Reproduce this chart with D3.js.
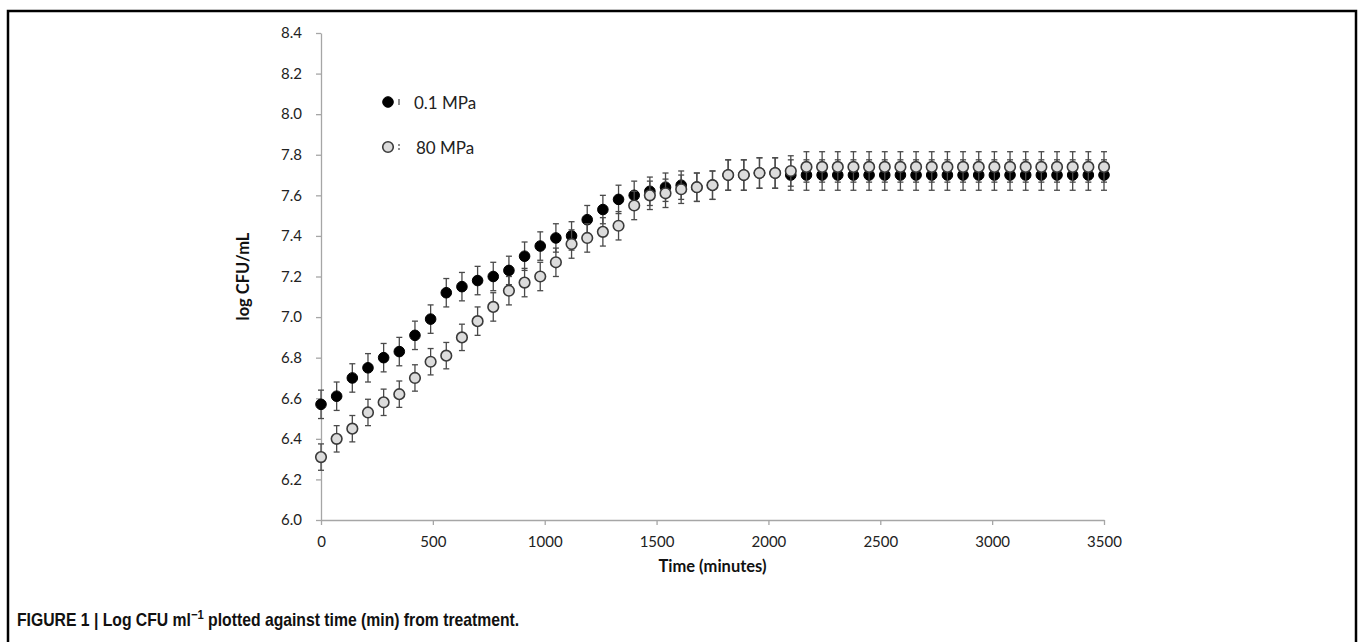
<!DOCTYPE html>
<html>
<head>
<meta charset="utf-8">
<script src="https://cdn.jsdelivr.net/npm/d3@7"></script>
<style>
  body { margin: 0; background: #fff; }
  svg { display: block; }
  .axis path, .axis line { stroke: #a6a6a6; stroke-width: 1.3; }
  .axis text { font-family: Lato, "Open Sans", sans-serif; font-size: 15px; fill: #222; }
</style>
</head>
<body>
<svg id="chart"></svg>
<script>
// time points (minutes)
var times = [0,70,140,210,280,350,420,490,560,630,700,770,840,910,980,1050,1120,1190,1260,1330,
             1400,1470,1540,1610,1680,1750,1820,1890,1960,2030,2100,2170,2240,2310,2380,2450,2520,2590,2660,2730,
             2800,2870,2940,3010,3080,3150,3220,3290,3360,3430,3500];
// 0.1 MPa
var low = [6.57,6.61,6.70,6.75,6.80,6.83,6.91,6.99,7.12,7.15,7.18,7.20,7.23,7.30,7.35,7.39,7.40,7.48,7.53,7.58,
           7.60,7.62,7.64,7.65,7.64,7.65,7.70,7.70,7.71,7.71,7.70,7.70,7.70,7.70,7.70,7.70,7.70,7.70,7.70,7.70,
           7.70,7.70,7.70,7.70,7.70,7.70,7.70,7.70,7.70,7.70,7.70];
var lowErr = [0.07,0.07,0.07,0.07,0.07,0.07,0.07,0.07,0.07,0.07,0.07,0.07,0.07,0.07,0.07,0.07,0.07,0.07,0.07,0.07,
              0.07,0.07,0.07,0.07,0.07,0.07,0.075,0.075,0.075,0.075,0.075,0.075,0.075,0.075,0.075,0.075,0.075,0.075,0.075,0.075,
              0.075,0.075,0.075,0.075,0.075,0.075,0.075,0.075,0.075,0.075,0.075];
// 80 MPa
var high = [6.31,6.40,6.45,6.53,6.58,6.62,6.70,6.78,6.81,6.90,6.98,7.05,7.13,7.17,7.20,7.27,7.36,7.39,7.42,7.45,
            7.55,7.60,7.61,7.63,7.64,7.65,7.70,7.70,7.71,7.71,7.72,7.74,7.74,7.74,7.74,7.74,7.74,7.74,7.74,7.74,
            7.74,7.74,7.74,7.74,7.74,7.74,7.74,7.74,7.74,7.74,7.74];
var highErr = [0.065,0.065,0.065,0.065,0.065,0.065,0.065,0.065,0.065,0.065,0.07,0.07,0.07,0.07,0.07,0.07,0.07,0.07,0.07,0.07,
               0.07,0.07,0.07,0.07,0.07,0.07,0.075,0.075,0.075,0.075,0.075,0.075,0.075,0.075,0.075,0.075,0.075,0.075,0.075,0.075,
               0.075,0.075,0.075,0.075,0.075,0.075,0.075,0.075,0.075,0.075,0.075];
var xTicks = [0,500,1000,1500,2000,2500,3000,3500];
var yTicks = [6.0,6.2,6.4,6.6,6.8,7.0,7.2,7.4,7.6,7.8,8.0,8.2,8.4];
var seriesNames = ["0.1 MPa", "80 MPa"];

var width = 1360, height = 642;
var svg = d3.select("#chart").attr("width", width).attr("height", height);

// frame
svg.append("rect")
  .attr("x", 8).attr("y", 11)
  .attr("width", 1348).attr("height", 700)
  .attr("fill", "none").attr("stroke", "#000").attr("stroke-width", 2.5);

var x = d3.scaleLinear().domain([0, 3500]).range([321, 1104]);
var y = d3.scaleLinear().domain([6.0, 8.4]).range([520, 33]);

svg.append("g")
  .attr("class", "axis")
  .attr("transform", "translate(0,520)")
  .call(d3.axisBottom(x).tickValues(xTicks).tickSizeInner(5).tickSizeOuter(0).tickPadding(11).tickFormat(d3.format("d")));

svg.append("g")
  .attr("class", "axis")
  .attr("transform", "translate(321,0)")
  .call(d3.axisLeft(y).tickValues(yTicks).tickSizeInner(5).tickSizeOuter(0).tickPadding(14).tickFormat(d3.format(".1f")));

// axis titles
svg.append("text")
  .attr("transform", "translate(249," + ((33 + 520) / 2) + ") rotate(-90)")
  .attr("text-anchor", "middle")
  .attr("font-family", "Lato, 'Open Sans', sans-serif")
  .attr("font-weight", "bold")
  .attr("font-size", "16.5px")
  .attr("fill", "#111")
  .text("log CFU/mL");

svg.append("text")
  .attr("x", (321 + 1104) / 2).attr("y", 572)
  .attr("text-anchor", "middle")
  .attr("font-family", "Lato, 'Open Sans', sans-serif")
  .attr("font-weight", "bold")
  .attr("font-size", "16.5px")
  .attr("fill", "#111")
  .text("Time (minutes)");

function drawSeries(vals, errs, fill, stroke, sw) {
  var g = svg.append("g");
  var cap = 3;
  var eb = g.selectAll("g.eb").data(vals).enter().append("g");
  eb.append("line")
    .attr("x1", function(d, i) { return x(times[i]); })
    .attr("x2", function(d, i) { return x(times[i]); })
    .attr("y1", function(d, i) { return y(d + errs[i]); })
    .attr("y2", function(d, i) { return y(d - errs[i]); })
    .attr("stroke", "#4a4a4a").attr("stroke-width", 1.3);
  eb.append("line")
    .attr("x1", function(d, i) { return x(times[i]) - cap; })
    .attr("x2", function(d, i) { return x(times[i]) + cap; })
    .attr("y1", function(d, i) { return y(d + errs[i]); })
    .attr("y2", function(d, i) { return y(d + errs[i]); })
    .attr("stroke", "#4a4a4a").attr("stroke-width", 1.3);
  eb.append("line")
    .attr("x1", function(d, i) { return x(times[i]) - cap; })
    .attr("x2", function(d, i) { return x(times[i]) + cap; })
    .attr("y1", function(d, i) { return y(d - errs[i]); })
    .attr("y2", function(d, i) { return y(d - errs[i]); })
    .attr("stroke", "#4a4a4a").attr("stroke-width", 1.3);
  g.selectAll("circle").data(vals).enter().append("circle")
    .attr("cx", function(d, i) { return x(times[i]); })
    .attr("cy", function(d) { return y(d); })
    .attr("r", 5.3)
    .attr("fill", fill).attr("stroke", stroke).attr("stroke-width", sw);
}
drawSeries(low, lowErr, "#000", "#000", 1);
drawSeries(high, highErr, "#dcdcdc", "#3a3a3a", 1.6);

// legend
var legend = [{ y: 102, fill: "#000", stroke: "#000", sw: 1, tx: 414 },
              { y: 147, fill: "#dcdcdc", stroke: "#3a3a3a", sw: 1.6, tx: 416 }];
legend.forEach(function(l, i) {
  svg.append("line")
    .attr("x1", 399).attr("x2", 399)
    .attr("y1", l.y - 3).attr("y2", l.y + 3)
    .attr("stroke", "#555").attr("stroke-width", 1.3)
    .attr("stroke-dasharray", i === 0 ? null : "2,2");
  svg.append("circle")
    .attr("cx", 388).attr("cy", l.y).attr("r", 5.3)
    .attr("fill", l.fill).attr("stroke", l.stroke).attr("stroke-width", l.sw);
  svg.append("text")
    .attr("x", l.tx).attr("y", l.y + 7)
    .attr("font-family", "Lato, 'Open Sans', sans-serif")
    .attr("font-size", "17px")
    .attr("fill", "#222")
    .text(seriesNames[i]);
});

// caption (condensed bold)
var cap = svg.append("text")
  .attr("transform", "translate(17,626) scale(0.9,1)")
  .attr("font-family", "'Liberation Sans', Arial, sans-serif")
  .attr("font-weight", "bold")
  .attr("font-size", "17.5px")
  .attr("fill", "#111");
cap.append("tspan").text("FIGURE 1 | Log CFU ml");
cap.append("tspan").attr("dy", -7).attr("font-size", "12.5px").text("\u22121");
cap.append("tspan").attr("dy", 7).text(" plotted against time (min) from treatment.");
</script>
</body>
</html>
